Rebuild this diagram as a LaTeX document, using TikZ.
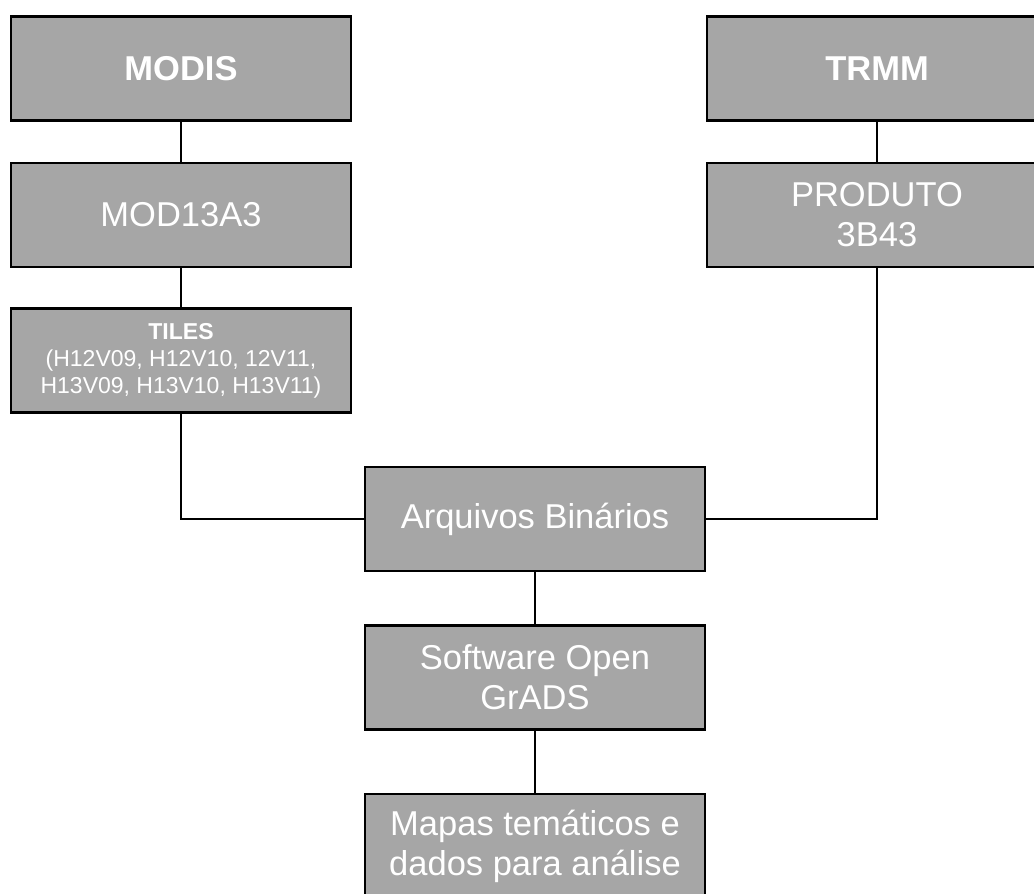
\documentclass[tikz,border=0pt]{standalone}
\usepackage{fontspec}
\setmainfont{Liberation Sans}
\definecolor{boxgray}{HTML}{A6A6A6}

\tikzset{
  stagebox/.style={draw=black, line width=2.6pt, fill=boxgray, text=white,
    minimum width=340pt, minimum height=104pt, align=center, inner sep=0pt,
    font=\fontsize{34.5}{40}\selectfont},
  smalltext/.style={font=\fontsize{23}{27}\selectfont},
  link/.style={draw=black, line width=2pt}
}

\begin{document}
\begin{tikzpicture}[x=1pt, y=-1pt]
  \useasboundingbox (0,0) rectangle (1034,894);
  \clip (0,0) rectangle (1034,894);

  % MODIS column
  \node[stagebox] (modis) at (181,68.5) {\textbf{MODIS}};
  \node[stagebox] (mod13) at (181,215) {MOD13A3};
  \node[stagebox, smalltext] (tiles) at (181,360.5)
    {\textbf{TILES}\\(H12V09, H12V10, 12V11,\\H13V09, H13V10, H13V11)};

  % TRMM column
  \node[stagebox] (trmm) at (877,68.5) {\textbf{TRMM}};
  \node[stagebox] (prod) at (877,215) {PRODUTO\\3B43};

  % processing chain
  \node[stagebox] (bin) at (535,519) {Arquivos Binários};
  \node[stagebox] (grads) at (535,677.5) {Software Open\\GrADS};
  \node[stagebox] (maps) at (535,846) {Mapas temáticos e\\dados para análise};

  % connectors
  \draw[link] (modis) -- (mod13);
  \draw[link] (mod13) -- (tiles);
  \draw[link] (tiles.south) |- (bin.west);
  \draw[link] (trmm) -- (prod);
  \draw[link] (prod.south) |- (bin.east);
  \draw[link] (bin) -- (grads);
  \draw[link] (grads) -- (maps);
\end{tikzpicture}
\end{document}
